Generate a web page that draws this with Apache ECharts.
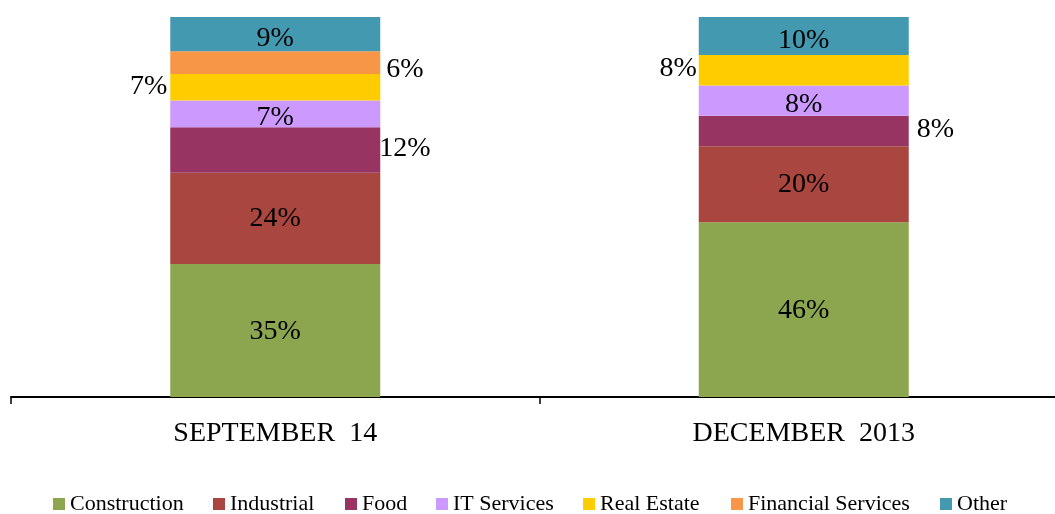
<!DOCTYPE html>
<html>
<head>
<meta charset="utf-8">
<script src="https://cdn.jsdelivr.net/npm/echarts@6/dist/echarts.min.js"></script>
<style>
html,body{margin:0;padding:0;background:#fff;}
#chart{width:1055px;height:514px;}
</style>
</head>
<body>
<div id="chart"></div>
<script>
// ---- data ----
const categories = ['SEPTEMBER  14', 'DECEMBER  2013'];
const seriesNames = ['Construction', 'Industrial', 'Food', 'IT Services', 'Real Estate', 'Financial Services', 'Other'];
const construction = [35, 46];
const industrial = [24, 20];
const food = [12, 8];
const itServices = [7, 8];
const realEstate = [7, 8];
const financialServices = [6, 0];
const other = [9, 10];

// ---- presentation ----
const values = [construction, industrial, food, itServices, realEstate, financialServices, other];
const colors = ['#8BA64F', '#A9463F', '#973462', '#CC99FF', '#FFCC00', '#F79646', '#4299B0'];
const insideOffsetY = [1, 0, 1, 4, 2, 2, 5];
const legendLeft = [53, 213, 345, 436, 583, 731, 940];
const FONT = "'Liberation Serif', 'Times New Roman', serif";

// outside label placements (series index + category index)
const placements = {
  '2_0': { position: 'right', distance: -1, offset: [0, -1] },
  '4_0': { position: 'left', distance: 3, offset: [0, -1] },
  '5_0': { position: 'right', distance: 6, offset: [0, 7] },
  '2_1': { position: 'right', distance: 8, offset: [0, -1] },
  '4_1': { position: 'left', distance: 2, offset: [0, -2] }
};

const series = seriesNames.map((name, si) => ({
  name: name,
  type: 'bar',
  stack: 'total',
  barWidth: 210,
  itemStyle: { color: colors[si] },
  label: {
    show: true,
    position: 'inside',
    offset: [0, insideOffsetY[si]],
    color: '#000',
    fontFamily: FONT,
    fontSize: 28,
    formatter: p => (p.value > 0 ? p.value + '%' : '')
  },
  data: values[si].map((v, ci) => {
    const pl = placements[si + '_' + ci];
    if (!pl) return v;
    return { value: v, label: Object.assign({}, pl) };
  })
}));

const legends = seriesNames.map((name, i) => ({
  data: [name],
  left: legendLeft[i],
  top: 493,
  padding: 0,
  itemWidth: 12,
  itemHeight: 12,
  icon: 'rect',
  selectedMode: false,
  textStyle: { fontFamily: FONT, fontSize: 22, color: '#000' }
}));

const chart = echarts.init(document.getElementById('chart'), null, { renderer: 'canvas' });
chart.setOption({
  animation: false,
  backgroundColor: '#fff',
  legend: legends,
  grid: { left: 11, width: 1057, top: 17, bottom: 117, containLabel: false, outerBoundsMode: 'none' },
  xAxis: {
    type: 'category',
    data: categories,
    axisLine: { lineStyle: { color: '#000', width: 2 } },
    axisTick: { show: true, length: 7, lineStyle: { color: '#000', width: 1.5 } },
    axisLabel: { fontFamily: FONT, fontSize: 28, color: '#000', margin: 23 }
  },
  yAxis: {
    type: 'value',
    min: 0,
    max: 100,
    show: false,
    splitLine: { show: false }
  },
  series: series
});
</script>
</body>
</html>
